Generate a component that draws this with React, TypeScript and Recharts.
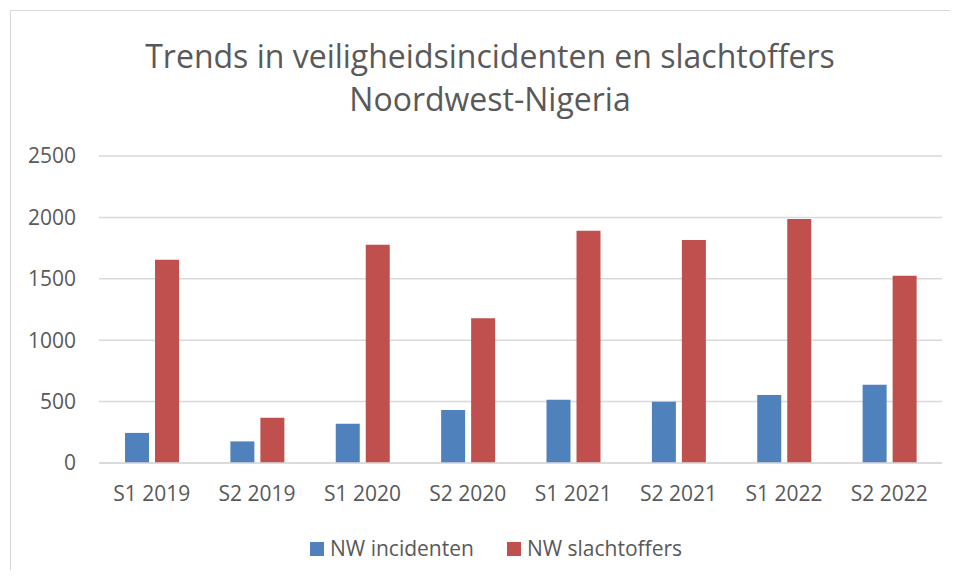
import { Bar, BarChart, CartesianGrid, XAxis, YAxis } from "recharts";

const CATEGORIES = ["S1 2019", "S2 2019", "S1 2020", "S2 2020", "S1 2021", "S2 2021", "S1 2022", "S2 2022"];
const INCIDENTEN = [245, 176, 320, 431, 515, 498, 553, 637];
const SLACHTOFFERS = [1655, 368, 1777, 1178, 1891, 1815, 1986, 1525];
const Y_TICKS = [0, 500, 1000, 1500, 2000, 2500];

const BLUE = "#4f81bd";
const RED = "#c0504d";
const GRID = "#d9d9d9";
const TEXT = "#595959";
const FONT = "'Open Sans', sans-serif";

const rows = CATEGORIES.map((name, i) => ({
  name,
  incidenten: INCIDENTEN[i],
  slachtoffers: SLACHTOFFERS[i],
}));

export default function App() {
  return (
    <div
      style={{
        position: "relative",
        width: 958,
        height: 578,
        margin: -8,
        overflow: "hidden",
        background: "#fff",
        fontFamily: FONT,
        color: TEXT,
      }}
    >
      <div
        style={{
          position: "absolute",
          left: 10,
          top: 10,
          width: 1000,
          height: 1000,
          border: `1.5px solid ${GRID}`,
        }}
      />
      <div
        style={{
          position: "absolute",
          left: 0,
          top: 34,
          width: 980,
          textAlign: "center",
          fontSize: 32,
          lineHeight: "43px",
        }}
      >
        Trends in veiligheidsincidenten en slachtoffers
        <br />
        Noordwest-Nigeria
      </div>

      <div style={{ position: "absolute", left: 0, top: 0 }}>
        <BarChart
          width={958}
          height={578}
          data={rows}
          margin={{ top: 156, right: 16, bottom: 55, left: 39 }}
          barSize={24}
          barGap={6}
        >
          <CartesianGrid vertical={false} stroke={GRID} strokeWidth={1.5} />
          <XAxis
            dataKey="name"
            height={60}
            tickLine={false}
            tickSize={0}
            tickMargin={23}
            axisLine={{ stroke: GRID, strokeWidth: 1.5 }}
            tick={{ fill: TEXT, fontSize: 21, fontFamily: FONT }}
          />
          <YAxis
            width={60}
            domain={[0, 2500]}
            ticks={Y_TICKS}
            tickLine={false}
            tickSize={0}
            tickMargin={23}
            axisLine={false}
            tick={{ fill: TEXT, fontSize: 21, fontFamily: FONT }}
          />
          <Bar dataKey="incidenten" fill={BLUE} isAnimationActive={false} />
          <Bar dataKey="slachtoffers" fill={RED} isAnimationActive={false} />
        </BarChart>
      </div>

      <div
        style={{
          position: "absolute",
          left: 310,
          top: 534,
          display: "flex",
          alignItems: "center",
          fontSize: 21,
          lineHeight: "29px",
        }}
      >
        <span style={{ width: 14, height: 14, background: BLUE, marginRight: 6 }} />
        <span>NW incidenten</span>
        <span style={{ width: 14, height: 14, background: RED, marginLeft: 33, marginRight: 6 }} />
        <span>NW slachtoffers</span>
      </div>
    </div>
  );
}
